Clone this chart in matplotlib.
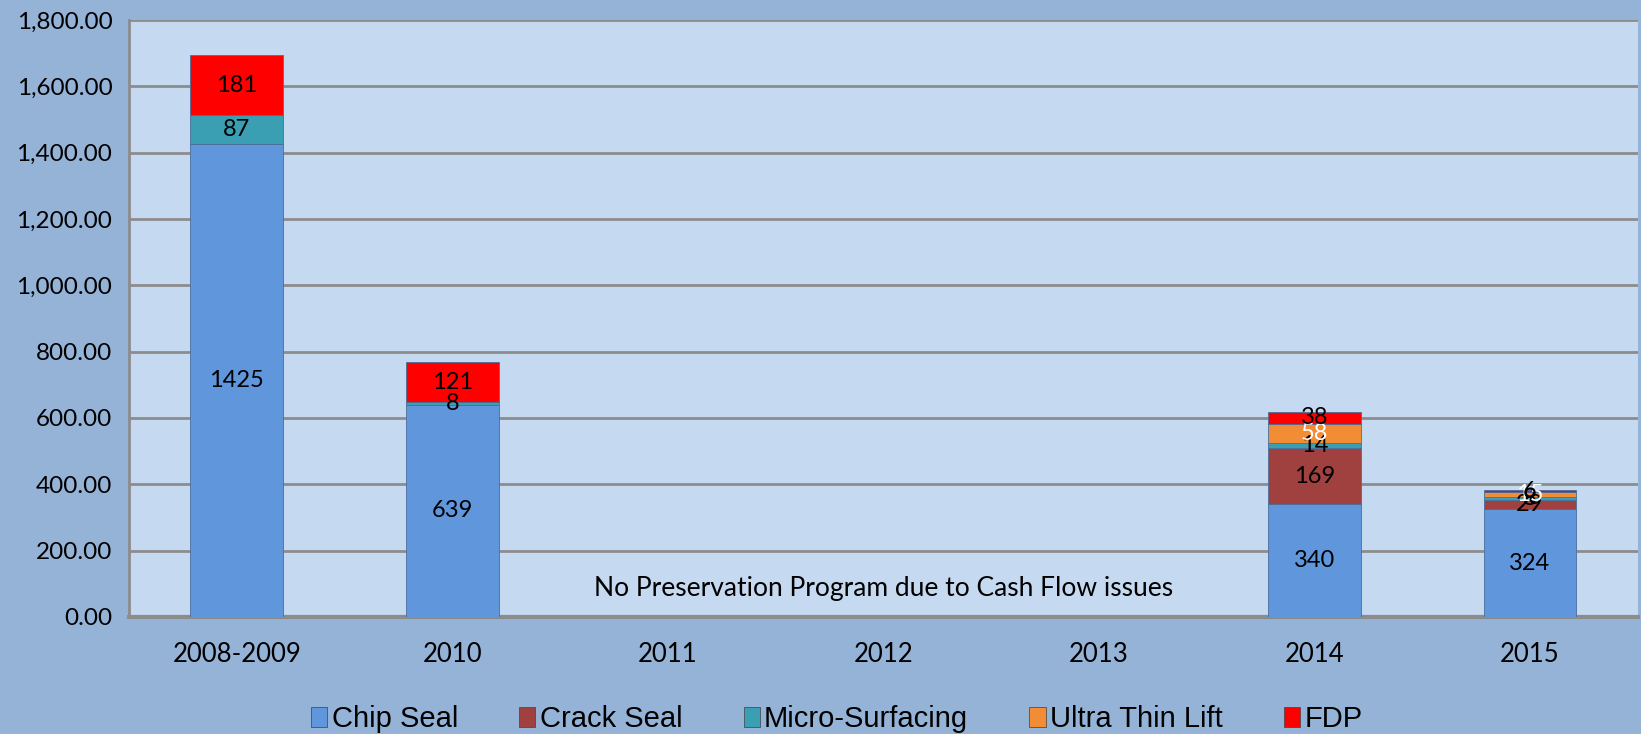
import numpy as np
import matplotlib.pyplot as plt
from matplotlib.patches import Patch

categories = ["2008-2009", "2010", "2011", "2012", "2013", "2014", "2015"]
chip_seal = [1425, 639, 0, 0, 0, 340, 324]
crack_seal = [0, 0, 0, 0, 0, 169, 29]
micro_surfacing = [87, 8, 0, 0, 0, 14, 8]
ultra_thin_lift = [0, 0, 0, 0, 0, 58, 15]
fdp = [181, 121, 0, 0, 0, 38, 6]
ticks = [0, 200, 400, 600, 800, 1000, 1200, 1400, 1600, 1800]

series = [
    ("Chip Seal", chip_seal, "#5F96DC", "black"),
    ("Crack Seal", crack_seal, "#A0403F", "black"),
    ("Micro-Surfacing", micro_surfacing, "#3A9FB2", "black"),
    ("Ultra Thin Lift", ultra_thin_lift, "#F28C35", "white"),
    ("FDP", fdp, "#FF0000", "black"),
]

plt.rcParams['font.family'] = ['Lato', 'DejaVu Sans']

fig = plt.figure(figsize=(16.41, 7.34), dpi=100)
fig.patch.set_facecolor("#95B3D7")
ax = fig.add_axes([0.0786, 0.1595, 0.9194, 0.8133])
ax.set_facecolor("#C5D9F1")

x = np.arange(len(categories))
bottom = np.zeros(len(categories))
for name, vals, col, tcol in series:
    vals = np.array(vals, dtype=float)
    ax.bar(x, vals, 0.43, bottom=bottom, color=col, edgecolor="#4A6F9A",
           linewidth=0.6, zorder=3)
    for i, v in enumerate(vals):
        if v > 0:
            ax.text(x[i], bottom[i] + v / 2, str(int(v)), ha="center",
                    va="center", fontsize=17, color=tcol, zorder=5)
    bottom += vals

ax.set_xlim(-0.5, len(categories) - 0.5)
ax.set_ylim(0, 1800)
ax.set_yticks(ticks)
ax.set_yticklabels([f"{t:,.2f}" for t in ticks], fontsize=17.5)
ax.set_xticks(x)
ax.set_xticklabels(categories, fontsize=18.5)
ax.tick_params(axis="x", length=0, pad=18)
ax.tick_params(axis="y", length=0, pad=12)
ax.grid(axis="y", color="#8C8C8C", linewidth=2, zorder=1)
for s in ["top", "right"]:
    ax.spines[s].set_visible(False)
ax.spines["left"].set_color("#8C8C8C")
ax.spines["left"].set_linewidth(2)
ax.spines["bottom"].set_color("#8C8C8C")
ax.spines["bottom"].set_linewidth(3)

ax.text(3.0, 85, "No Preservation Program due to Cash Flow issues",
        ha="center", va="center", fontsize=19, zorder=5)

handles = [Patch(facecolor=c, edgecolor="#404040", linewidth=0.5) for _, _, c, _ in series]
fig.legend(handles, [s[0] for s in series], loc="lower center",
           bbox_to_anchor=(0.51, -0.035), ncol=5, frameon=False,
           prop={'family': ['Liberation Sans Narrow', 'Liberation Sans'], 'size': 21},
           handlelength=0.55, handleheight=0.7, handletextpad=0.15, columnspacing=2.1)

fig.savefig("out.png", dpi=100, facecolor=fig.get_facecolor())
